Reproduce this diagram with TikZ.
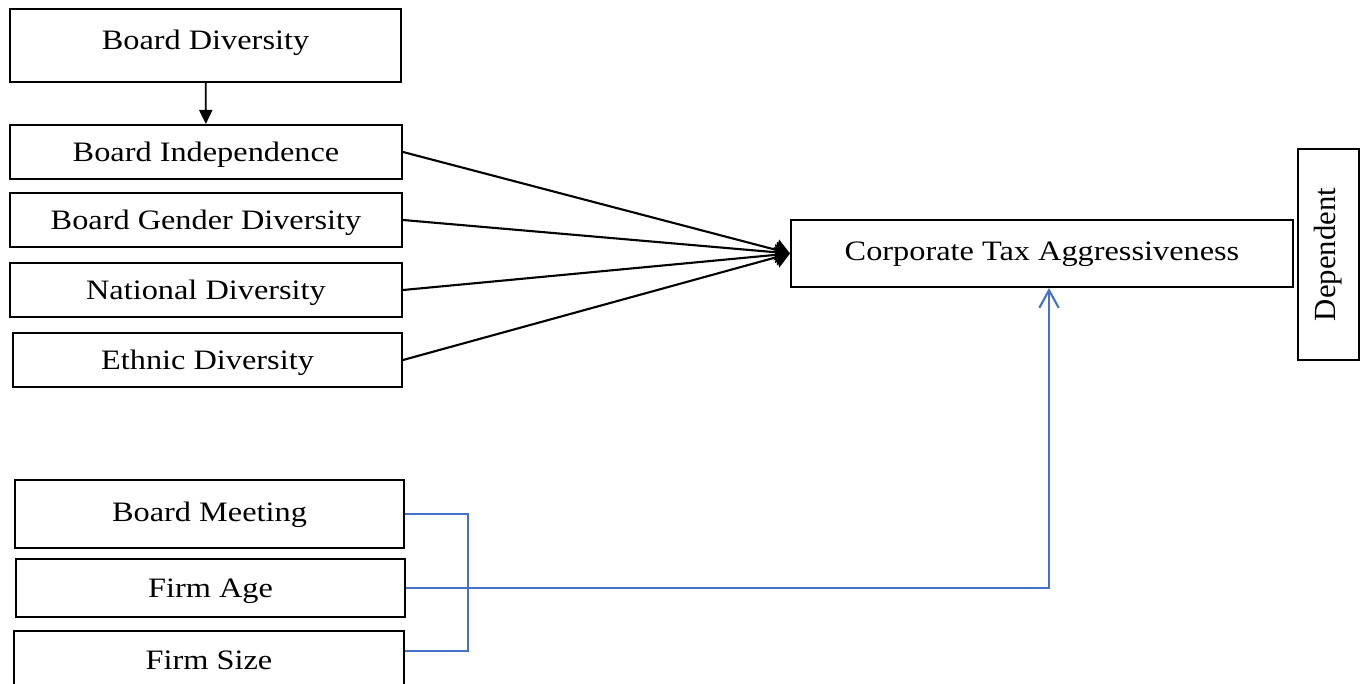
\documentclass[tikz,border=0pt]{standalone}
\usepackage{fontspec}
\usepackage{tikz}
\usetikzlibrary{
    arrows.meta,
    positioning,
    calc
}
\newfontfamily\boxfont{Liberation Serif}[FakeStretch=1.15]
\newfontfamily\sidefont{Liberation Serif}
\definecolor{CtrlBlue}{RGB}{68,114,196}
\tikzset{
  block/.style = {draw, line width=1.2pt, inner sep=0pt, align=center,
                  minimum width=7.82cm, minimum height=1.08cm, text depth=0pt,
                  font=\boxfont\fontsize{16}{19}\selectfont},
  arr/.style   = {-{Triangle[length=8pt,width=12pt]}, line width=1.2pt},
  ctrl/.style  = {CtrlBlue, line width=1.2pt}
}

\begin{document}
\begin{tikzpicture}[x=0.02cm, y=-0.02cm]
\useasboundingbox (0,0) rectangle (1369,683);
% independent variables
\node[block, minimum height=1.46cm, text depth=0.6em] (bdiv) at (205.5,45.5) {Board Diversity};
\node[block, minimum width=7.84cm] (ind) at (206,152) {Board Independence};
\node[block, minimum width=7.84cm] (gen) at (206,220) {Board Gender Diversity};
\node[block, minimum width=7.84cm] (nat) at (206,290) {National Diversity};
\node[block, minimum width=7.78cm] (eth) at (207.5,360) {Ethnic Diversity};
% dependent variable
\node[block, minimum width=10.04cm, minimum height=1.34cm, text depth=0.3em] (cta) at (1042,253.5) {Corporate Tax Aggressiveness};
\node[block, minimum width=1.22cm, minimum height=4.22cm, font=\sidefont\fontsize{17.5}{20}\selectfont] (dep) at (1328.5,254.5) {\rotatebox{90}{Dependent}};
% control variables
\node[block, minimum width=7.78cm, minimum height=1.36cm, text depth=0.3em] (bm) at (209.5,514) {Board Meeting};
\node[block, minimum width=7.78cm, minimum height=1.16cm] (fa) at (210.5,588) {Firm Age};
\node[block, minimum width=7.80cm, minimum height=1.16cm] (fs) at (209,660) {Firm Size};

\draw[-{Triangle[length=8pt,width=7.5pt]}, line width=1pt] (bdiv) -- (ind);
\draw[arr] (ind.east) -- (cta.west);
\draw[arr] (gen.east) -- (cta.west);
\draw[arr] (nat.east) -- (cta.west);
\draw[arr] (eth.east) -- (cta.west);

\coordinate (join) at (468,587);
\draw[ctrl] (bm.east) -| (join) |- ($(fs.east)+(0,-9)$);
\draw[ctrl, -{Straight Barb[length=10pt,width=11pt]}] (fa.east) -| ($(cta.south)+(7,0)$);
\end{tikzpicture}
\end{document}
